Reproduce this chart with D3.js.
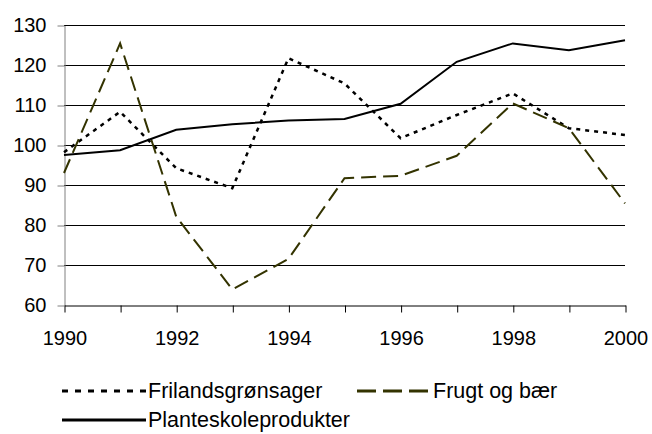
<!DOCTYPE html>
<html>
<head>
<meta charset="utf-8">
<script src="https://cdn.jsdelivr.net/npm/d3@7"></script>
<style>
	body { margin: 0; background: #fff; }
	svg { display: block; font-family: 'Liberation Sans', Arial, sans-serif; }
</style>
</head>
<body>
<svg id="chart"></svg>
<script>
// years on the x axis
const years = [1990, 1991, 1992, 1993, 1994, 1995, 1996, 1997, 1998, 1999, 2000];
const yearLabels = [1990, 1992, 1994, 1996, 1998, 2000];
const valueTicks = [60, 70, 80, 90, 100, 110, 120, 130];

const frilandsgronsager = [98.2, 108.3, 94.2, 89.2, 121.7, 115.4, 101.7, 107.5, 112.9, 104.2, 102.5];
const frugtOgBaer = [93, 125.4, 82.1, 63.9, 71.5, 91.7, 92.3, 97.3, 110.4, 104.2, 85.4];
const planteskoleprodukter = [97.5, 98.7, 103.8, 105.2, 106.1, 106.5, 110.3, 120.8, 125.4, 123.7, 126.2];

const seriesNames = ['Frilandsgrønsager', 'Frugt og bær', 'Planteskoleprodukter'];

const width = 652;
const height = 434;
const plot = { left: 64, right: 625, top: 25, bottom: 305 };

const svg = d3.select('#chart').attr('width', width)
	.attr('height', height);

const x = d3.scaleLinear().domain([1990, 2000])
	.range([plot.left, plot.right]);
const y = d3.scaleLinear().domain([60, 130])
	.range([plot.bottom, plot.top]);

// gridlines
svg.append('g')
	.selectAll('line')
	.data(valueTicks.filter((d) => d > 60))
	.join('line')
	.attr('x1', plot.left)
	.attr('x2', plot.right)
	.attr('y1', (d) => Math.round(y(d)) + 0.5)
	.attr('y2', (d) => Math.round(y(d)) + 0.5)
	.attr('stroke', '#000')
	.attr('stroke-width', 1);

// y axis
const yAxis = svg.append('g')
	.attr('transform', `translate(${ plot.left + 0.5 },0.5)`)
	.call(d3.axisLeft(y).tickValues(valueTicks)
		.tickSize(7)
		.tickPadding(11)
		.tickSizeOuter(0));

yAxis.select('.domain').attr('stroke', '#808080');
yAxis.selectAll('.tick line').attr('stroke', '#808080');
yAxis.selectAll('text')
	.attr('font-family', 'Liberation Sans, Arial, sans-serif')
	.attr('font-size', 20)
	.attr('fill', '#000');

// x axis
const xAxis = svg.append('g')
	.attr('transform', `translate(0.5,${ plot.bottom + 0.5 })`)
	.call(d3.axisBottom(x).tickValues(years)
		.tickSize(7)
		.tickFormat((d) => (yearLabels.includes(d) ? d : ''))
		.tickPadding(18)
		.tickSizeOuter(0));

xAxis.select('.domain').attr('stroke', '#000');
xAxis.selectAll('.tick line').attr('stroke', '#000');
xAxis.selectAll('text')
	.attr('font-family', 'Liberation Sans, Arial, sans-serif')
	.attr('font-size', 20)
	.attr('fill', '#000');

const series = [
	{ name: seriesNames[0], values: frilandsgronsager, color: '#000', dash: '4,5', legendDash: '6,7', width: 2.5 },
	{ name: seriesNames[1], values: frugtOgBaer, color: '#333300', dash: '15,7', legendDash: '19,7', width: 2 },
	{ name: seriesNames[2], values: planteskoleprodukter, color: '#000', dash: null, legendDash: null, width: 2 },
];

const line = d3.line()
	.x((d, i) => x(years[i]))
	.y((d) => y(d));

svg.append('g')
	.selectAll('path')
	.data(series)
	.join('path')
	.attr('fill', 'none')
	.attr('stroke', (d) => d.color)
	.attr('stroke-width', (d) => d.width)
	.attr('stroke-dasharray', (d) => d.dash)
	.attr('d', (d) => line(d.values));

// legend
const legendPos = [
	{ x: 62, y: 391, len: 84 },
	{ x: 357, y: 391, len: 74 },
	{ x: 62, y: 420, len: 84 },
];

const legend = svg.append('g')
	.selectAll('g')
	.data(series)
	.join('g')
	.attr('transform', (d, i) => `translate(${ legendPos[i].x },${ legendPos[i].y })`);

legend.append('line')
	.attr('x1', 0)
	.attr('x2', (d, i) => legendPos[i].len)
	.attr('stroke', (d) => d.color)
	.attr('stroke-width', 3)
	.attr('stroke-dasharray', (d) => d.legendDash);

legend.append('text')
	.attr('x', (d, i) => legendPos[i].len + 2)
	.attr('y', 7)
	.attr('font-size', 21.5)
	.attr('fill', '#000')
	.text((d) => d.name);
</script>
</body>
</html>
